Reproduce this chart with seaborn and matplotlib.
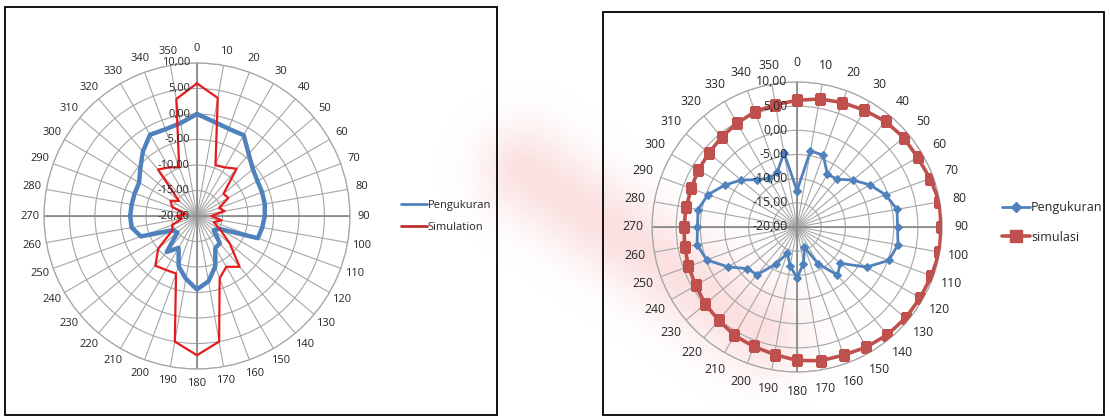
import numpy as np
import matplotlib.pyplot as plt
import seaborn as sns
from matplotlib.patches import Rectangle
from matplotlib.lines import Line2D

sns.set_style("white")
plt.rcParams['font.family'] = ['Open Sans', 'DejaVu Sans']

# ---------------- data ----------------
angles = list(range(0, 360, 10))
ring_values = [-20, -15, -10, -5, 0, 5, 10]
ring_labels = ['-20,00', '-15,00', '-10,00', '-5,00', '0,00', '5,00', '10,00']

# left chart
left_pengukuran = [0, -1.2, -1.8, -1.7, -4.2, -5.7, -6.3, -6.4, -6.5, -6.7,
                   -7.0, -7.3, -15.0, -15.7, -13.0, -12.8, -9.5, -7.0, -5.6, -7.5,
                   -9.5, -12.8, -10.8, -15.0, -14.4, -8.3, -7.0, -6.9, -7.0, -7.0,
                   -6.9, -5.5, -3.5, -1.6, -1.9, -1.5]
left_simulation = [6.0, 3.5, -9.4, -9.0, -7.9, -13.2, -12.9, -15.4, -14.5, -17.2,
                   -15.1, -16.5, -14.8, -11.6, -7.0, -8.5, -7.0, 5.0, 7.3, 5.0,
                   -8.0, -7.8, -7.3, -10.1, -14.5, -14.8, -17.0, -16.0, -17.8, -14.8,
                   -14.0, -15.4, -8.1, -9.0, -9.8, 3.3]

# right chart
right_pengukuran = [-12.5, -4.0, -4.2, -7.4, -7.1, -4.9, -2.6, -0.5, 1.0, 0.8,
                    1.2, 0.2, -3.4, -8.3, -7.0, -11.2, -15.5, -12.3, -9.5, -11.8,
                    -14.2, -11.1, -7.1, -6.6, -3.5, -0.1, 1.0, 0.6, 0.8, -0.4,
                    -2.7, -4.9, -7.2, -8.4, -8.0, -4.4]
right_simulasi = [6.2, 6.9, 7.4, 7.9, 8.5, 8.8, 8.8, 9.3, 9.9, 9.8,
                  9.9, 9.6, 9.4, 9.3, 9.1, 8.7, 8.2, 8.1, 7.6, 6.8,
                  6.3, 5.9, 5.2, 4.8, 4.2, 3.9, 3.6, 3.4, 3.3, 3.3,
                  3.6, 3.8, 4.3, 4.8, 5.4, 5.7]

blue = '#4F81BD'
red_line = '#E41A1C'
red_mark = '#C0504D'
grid_c = '#A6A6A6'


def closed(vals):
    th = np.deg2rad(angles + [360])
    return th, np.array(vals + [vals[0]])


def radar_base(ax, fs, lab_r, off):
    ax.set_theta_zero_location('N')
    ax.set_theta_direction(-1)
    ax.set_ylim(-20, 10)
    ax.set_xticks(np.deg2rad(angles))
    ax.set_xticklabels([])
    ax.set_yticks(ring_values)
    ax.set_yticklabels([])
    ax.set_facecolor('none')
    ax.grid(True, color=grid_c, lw=0.8)
    ax.spines['polar'].set_color(grid_c)
    ax.spines['polar'].set_linewidth(0.9)
    for a in [0, 90, 180, 270]:
        ax.plot([np.deg2rad(a)] * 2, [-20, 10], color='#8C8C8C', lw=1.3, zorder=1)
    for a in angles:
        ax.text(np.deg2rad(a), lab_r, str(a), ha='center', va='center',
                fontsize=fs, color='#262626')
    for v, s in zip(ring_values, ring_labels):
        ax.annotate(s, xy=(0, v), xytext=(-off, 0), textcoords='offset points',
                    ha='right', va='center', fontsize=fs, color='#262626', zorder=5)


fig = plt.figure(figsize=(11.1, 4.2), dpi=100)
fig.patch.set_facecolor('white')

# faint, blurred watermark in the background
bg = fig.add_axes([0, 0, 1, 1], zorder=-5)
yy, xx = np.mgrid[0:420, 0:1110]
p0, p1 = np.array([525.0, 170.0]), np.array([760.0, 330.0])
d = p1 - p0
t = np.clip(((xx - p0[0]) * d[0] + (yy - p0[1]) * d[1]) / (d @ d), 0, 1)
dist = np.hypot(xx - (p0[0] + t * d[0]), yy - (p0[1] + t * d[1]))
wm = np.zeros((420, 1110, 4))
wm[..., :3] = [0.93, 0.45, 0.45]
wm[..., 3] = 0.22 * np.exp(-(dist / 45.0) ** 2)
bg.imshow(wm, aspect='auto', extent=[0, 1110, 420, 0])
bg.set_xlim(0, 1110)
bg.set_ylim(420, 0)
bg.axis('off')

# panel borders
fig.add_artist(Rectangle((0.0045, 0.012), 0.443, 0.971, transform=fig.transFigure,
                         fill=False, ec='black', lw=1.3))
fig.add_artist(Rectangle((0.543, 0.012), 0.452, 0.96, transform=fig.transFigure,
                         fill=False, ec='black', lw=1.3))

# ---------- left radar ----------
ax1 = fig.add_axes([0.0396, 0.1214, 0.2757, 0.7286], projection='polar')
radar_base(ax1, 8, 12.8, 5)
th, r = closed(left_pengukuran)
sns.lineplot(x=th, y=r, ax=ax1, sort=False, color=blue, lw=3.2, zorder=3)
th, r = closed(left_simulation)
sns.lineplot(x=th, y=r, ax=ax1, sort=False, color=red_line, lw=1.6, zorder=4)

h1 = [Line2D([], [], color=blue, lw=2), Line2D([], [], color='#C0302D', lw=2)]
fig.legend(h1, ['Pengukuran', 'Simulation'], loc='center left',
           bbox_to_anchor=(0.352, 0.484), frameon=False, fontsize=8,
           handlelength=2.4, handletextpad=0.05, labelspacing=1.0)

# ---------- right radar ----------
ax2 = fig.add_axes([0.5874, 0.1143, 0.2613, 0.6905], projection='polar')
radar_base(ax2, 8.8, 14.0, 7)
th, r = closed(right_simulasi)
sns.lineplot(x=th, y=r, ax=ax2, sort=False, color=red_mark, lw=2.6, marker='s',
             markersize=7, markeredgecolor=red_mark, zorder=3)
th, r = closed(right_pengukuran)
sns.lineplot(x=th, y=r, ax=ax2, sort=False, color=blue, lw=2.0, marker='D',
             markersize=4.5, markeredgecolor=blue, zorder=4)

h2 = [Line2D([], [], color=blue, lw=2, marker='D', markersize=5),
      Line2D([], [], color=red_mark, lw=2.6, marker='s', markersize=8)]
fig.legend(h2, ['Pengukuran', 'simulasi'], loc='center left',
           bbox_to_anchor=(0.893, 0.47), frameon=False, fontsize=9,
           handlelength=2.2, handletextpad=0.1, labelspacing=1.3)

fig.savefig('out.png', dpi=100)
